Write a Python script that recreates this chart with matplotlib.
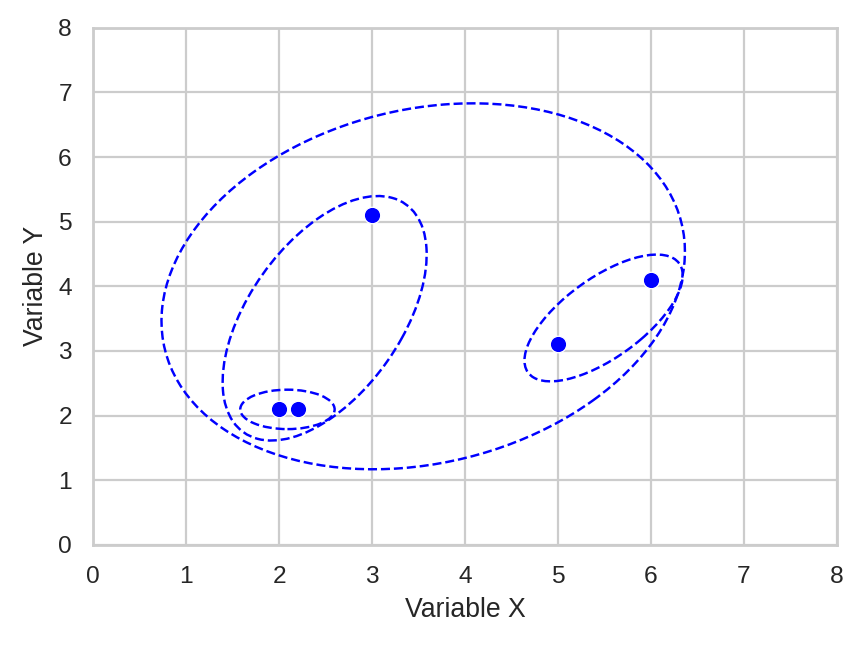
import matplotlib
matplotlib.use("Agg")
import matplotlib.pyplot as plt
from matplotlib.patches import Ellipse
import seaborn as sns

# Data points
x_vals = [2.0, 2.2, 3.0, 5.0, 6.0]
y_vals = [2.1, 2.1, 5.1, 3.1, 4.1]

# Cluster ellipses
ell_cx = [3.55, 2.49, 5.49, 2.09]
ell_cy = [4.00, 3.505, 3.51, 2.095]
ell_w = [6.16, 4.00, 2.38, 1.015]
ell_h = [5.08, 1.77, 1.04, 0.61]
ell_angle = [45.9, 68.8, 51.0, 0.0]

sns.set_theme(style="whitegrid")
plt.rcParams['font.family'] = ['Liberation Sans', 'DejaVu Sans']

fig, ax = plt.subplots(figsize=(862 / 160, 647 / 160), dpi=160)
fig.subplots_adjust(left=0.108, right=0.971, top=0.957, bottom=0.158)

sns.scatterplot(x=x_vals, y=y_vals, color='blue', s=55, ax=ax, zorder=3)

for cx, cy, w, h, a in zip(ell_cx, ell_cy, ell_w, ell_h, ell_angle):
    e = Ellipse((cx, cy), w, h, angle=a, fill=False, edgecolor='blue',
                linestyle='--', linewidth=1.1)
    ax.add_patch(e)

ax.set_xlim(0, 8)
ax.set_ylim(0, 8)
ax.set_xlabel('Variable X')
ax.set_ylabel('Variable Y')

fig.savefig('out.png')
